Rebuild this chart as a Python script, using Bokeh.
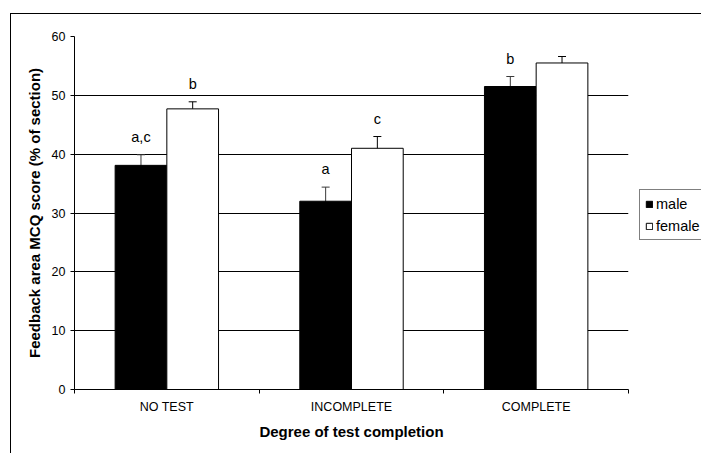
from bokeh.plotting import figure
from bokeh.models import (Range1d, FixedTicker, ColumnDataSource, Whisker, TeeHead,
                          LabelSet, Legend, LegendItem)
from bokeh.core.properties import value
from bokeh.embed import file_html
from bokeh.resources import INLINE

categories = ["NO TEST", "INCOMPLETE", "COMPLETE"]
male_mean = [38.1, 32.0, 51.5]
male_err = [1.8, 2.4, 1.7]
female_mean = [47.7, 41.0, 55.5]
female_err = [1.2, 2.0, 1.1]
male_letters = ["a,c", "a", "b"]
female_letters = ["b", "c", ""]
y_ticks = [0, 10, 20, 30, 40, 50, 60]
series_names = ["male", "female"]

FONT = "Liberation Sans"
BAR_W = 0.28
OFF = 0.14

n = len(categories)
centers = [i + 0.5 for i in range(n)]
bounds = [float(i) for i in range(n + 1)]

male_src = ColumnDataSource(dict(
    x=[c - OFF for c in centers], top=male_mean,
    upper=[m + e for m, e in zip(male_mean, male_err)],
    lower=[m - e for m, e in zip(male_mean, male_err)],
    letters=male_letters))
female_src = ColumnDataSource(dict(
    x=[c + OFF for c in centers], top=female_mean,
    upper=[m + e for m, e in zip(female_mean, female_err)],
    lower=[m - e for m, e in zip(female_mean, female_err)],
    letters=female_letters))

p = figure(width=690, height=439, frame_width=554, frame_height=353,
           min_border_left=63, min_border_right=73, min_border_top=22, min_border_bottom=64,
           x_range=Range1d(0, n), y_range=Range1d(0, 60),
           output_backend="svg", toolbar_location=None)
p.styles = {"margin-left": "10px", "margin-top": "13px",
            "border-left": "1px solid black", "border-top": "1px solid black"}
p.outline_line_color = None
p.background_fill_color = "white"
p.border_fill_color = "white"

p.xgrid.grid_line_color = None
p.ygrid.ticker = FixedTicker(ticks=y_ticks)
p.ygrid.grid_line_color = "black"
p.ygrid.grid_line_width = 1

r_m = p.vbar(x="x", top="top", bottom=0, width=BAR_W, source=male_src,
             fill_color="black", line_color="black", line_width=1)
r_f = p.vbar(x="x", top="top", bottom=0, width=BAR_W, source=female_src,
             fill_color="white", line_color="black", line_width=1)

for src, col in ((male_src, "#3a3a3a"), (female_src, "black")):
    p.add_layout(Whisker(source=src, base="x", upper="upper", lower="lower",
                         line_color=col, line_width=1,
                         upper_head=TeeHead(size=8, line_color=col, line_width=1),
                         lower_head=TeeHead(size=8, line_color=col, line_width=1)))
    p.add_layout(LabelSet(source=src, x="x", y="upper", text="letters",
                          text_align="center", text_baseline="bottom", y_offset=10,
                          text_font=value(FONT), text_font_size=value("14.5px"),
                          text_color="black"))

# y axis
ya = p.yaxis[0]
ya.ticker = FixedTicker(ticks=y_ticks)
ya.axis_label = "Feedback area MCQ score (% of section)"
ya.axis_label_text_font = FONT
ya.axis_label_text_font_style = "bold"
ya.axis_label_text_font_size = "15px"
ya.axis_label_text_color = "black"
ya.axis_label_standoff = 6
ya.major_label_text_font = FONT
ya.major_label_text_font_size = "12.5px"
ya.major_label_text_color = "black"
ya.major_label_standoff = 5
ya.major_tick_out = 4
ya.major_tick_in = 0
ya.minor_tick_line_color = None
ya.axis_line_color = "black"
ya.major_tick_line_color = "black"

# x axis
xa = p.xaxis[0]
xa.ticker = FixedTicker(ticks=centers, minor_ticks=bounds)
xa.major_label_overrides = {c: name for c, name in zip(centers, categories)}
xa.axis_label = "Degree of test completion"
xa.axis_label_text_font = FONT
xa.axis_label_text_font_style = "bold"
xa.axis_label_text_font_size = "15px"
xa.axis_label_text_color = "black"
xa.axis_label_standoff = 6
xa.major_label_text_font = FONT
xa.major_label_text_font_size = "12.5px"
xa.major_label_text_color = "black"
xa.major_label_standoff = 6
xa.major_tick_line_color = None
xa.major_tick_out = 0
xa.major_tick_in = 0
xa.minor_tick_out = 4
xa.minor_tick_in = 0
xa.minor_tick_line_color = "black"
xa.axis_line_color = "black"

legend = Legend(items=[LegendItem(label=series_names[0], renderers=[r_m]),
                       LegendItem(label=series_names[1], renderers=[r_f])],
                location=(11, 149), orientation="vertical",
                border_line_color="black", border_line_width=1,
                background_fill_color="white", background_fill_alpha=1,
                label_text_font=FONT, label_text_font_size="14.5px", label_text_color="black",
                glyph_width=8, glyph_height=8, label_height=17, spacing=5,
                padding=5, margin=0, label_standoff=3)
p.add_layout(legend, "right")

open("out.html", "w").write(file_html(p, INLINE))
